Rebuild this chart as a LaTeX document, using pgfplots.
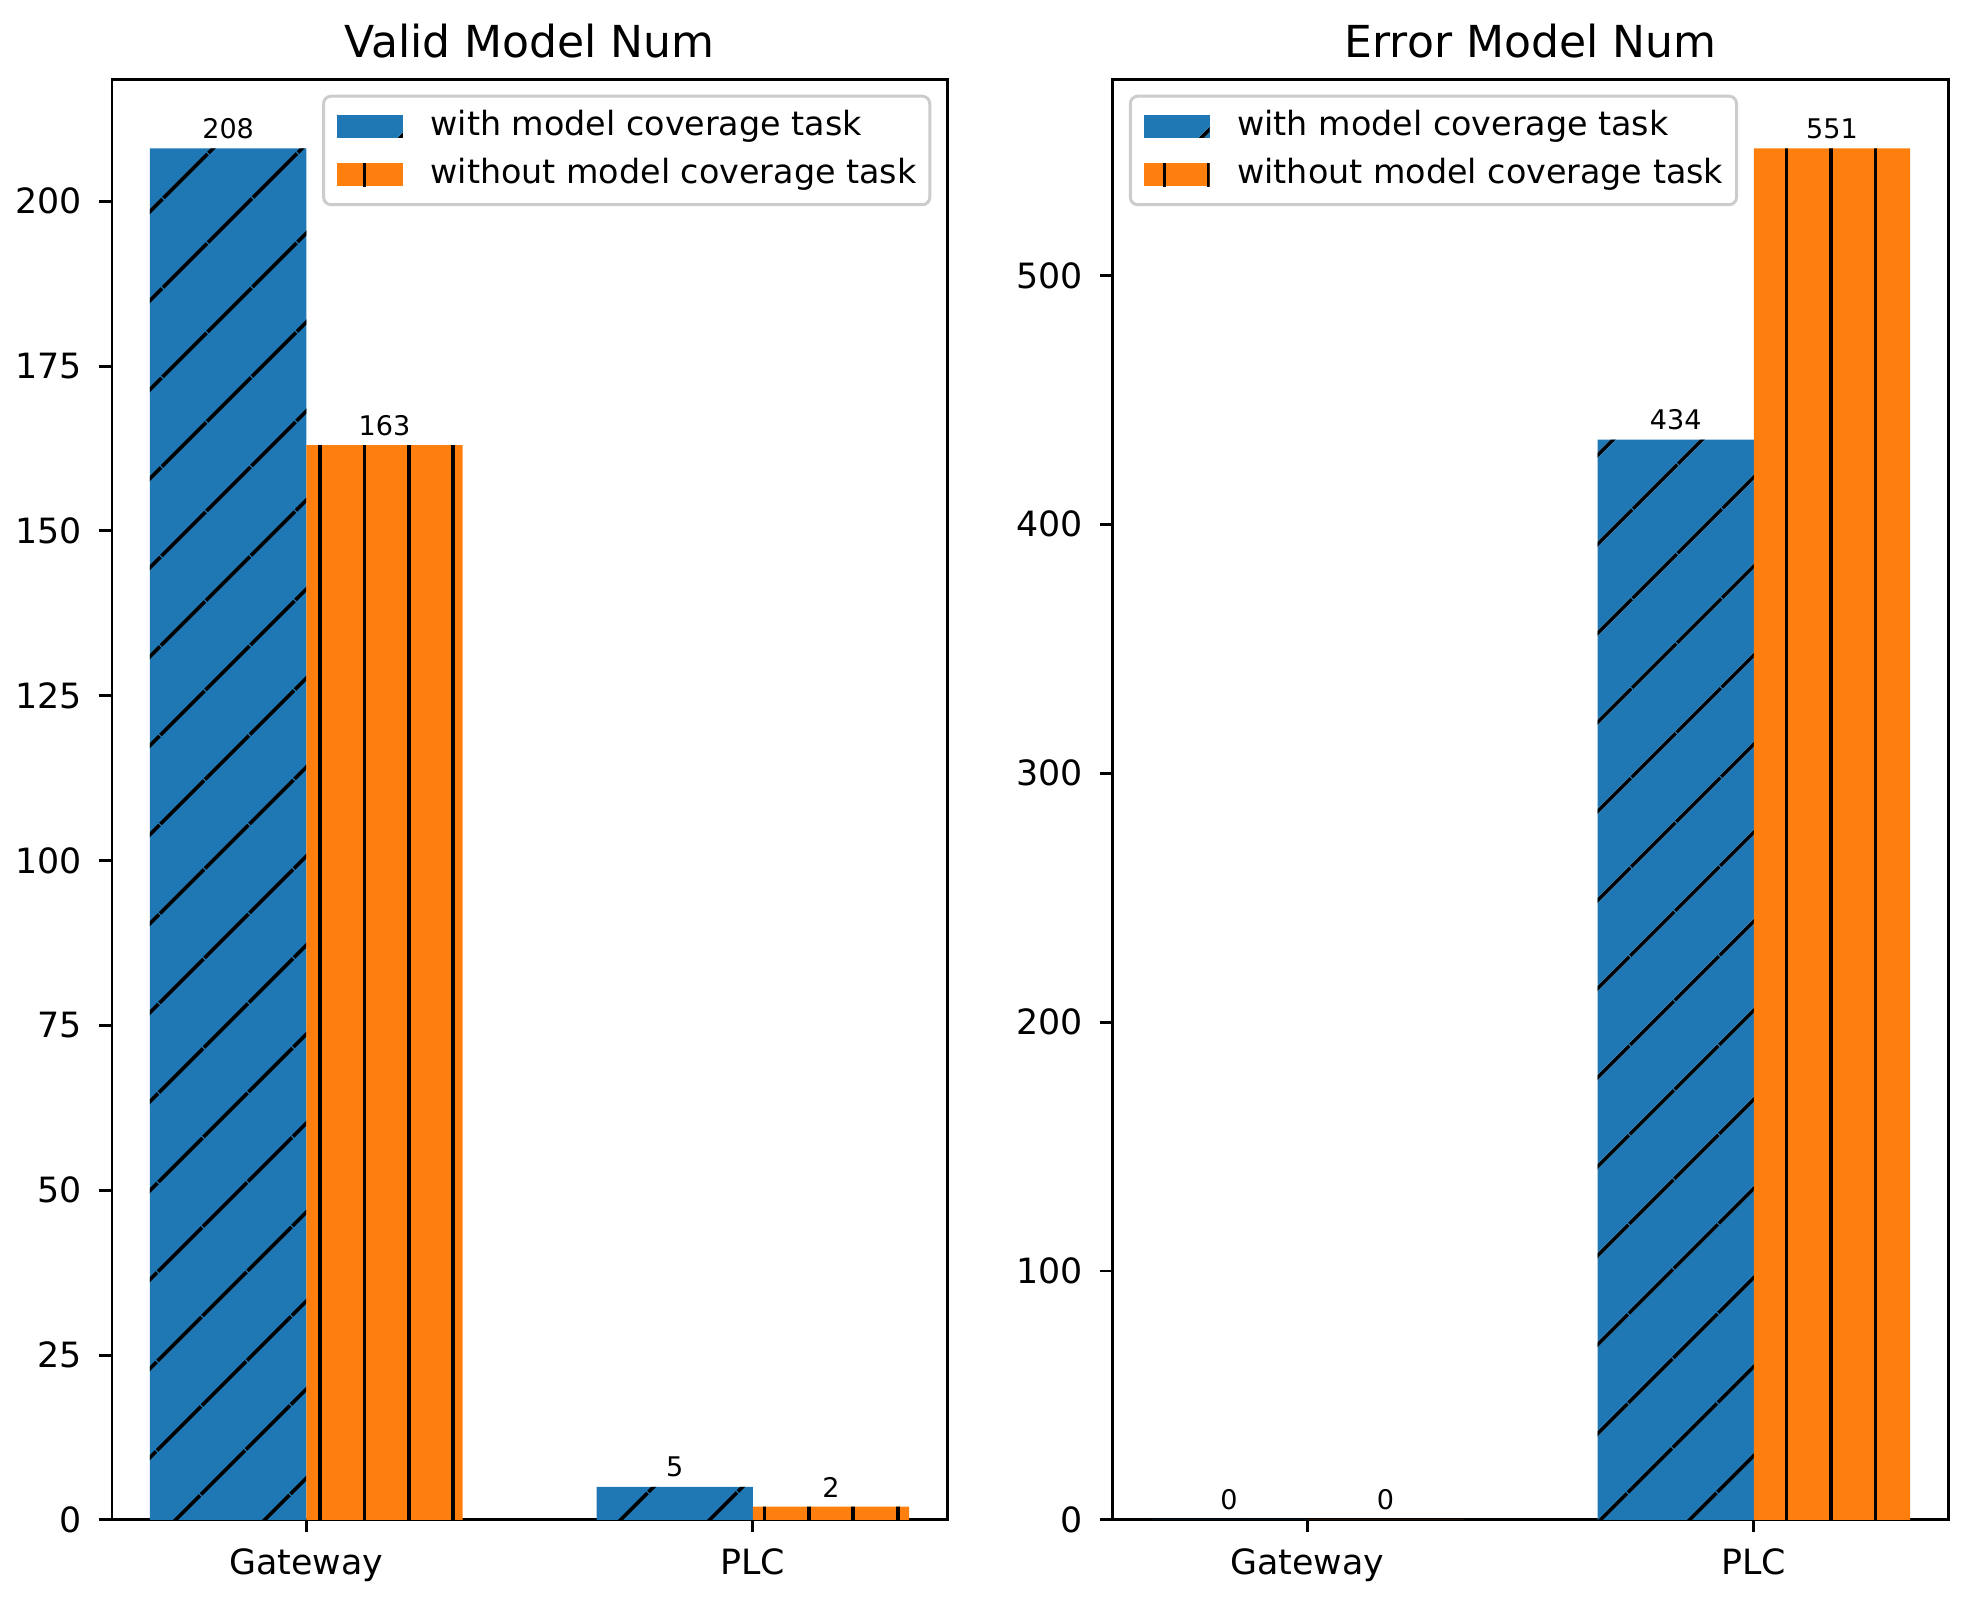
\documentclass[border=0pt]{standalone}
\usepackage{pgfplots}
\pgfplotsset{compat=1.18}
\usepackage{fontspec}
\setmainfont{DejaVu Sans}
\usetikzlibrary{patterns.meta}
\definecolor{mblue}{HTML}{1F77B4}
\definecolor{morange}{HTML}{FF7F0E}
\definecolor{lgray}{HTML}{CCCCCC}

\pgfplotsset{
  barax/.style={
    scale only axis, width=225.5pt, height=388.8pt,
    enlargelimits=false,
    xmin=-0.435, xmax=1.435, ymin=0,
    xtick={0,1}, xticklabels={Gateway,PLC},
    tick pos=left, tick align=outside,
    major tick length=3.4pt,
    tick style={black, line width=0.8pt},
    axis line style={line width=0.8pt},
    /pgf/number format/assume math mode=true,
    ticklabel style={font=\fontsize{9.4}{11}\selectfont},
    yticklabel style={anchor=east, inner sep=0pt, xshift=-4.6pt},
    xticklabel style={anchor=north, inner sep=0pt, yshift=-4.3pt},
    title style={at={(0.5,1)}, anchor=base, yshift=0pt, font=\fontsize{11.9}{14}\selectfont},
    legend cell align=left,
    legend image code/.code={\path[##1, sharp corners] (0pt,-3.1pt) rectangle (17.8pt,3.1pt);},
    legend style={draw=lgray, line width=0.8pt, rounded corners=2pt, fill=white,
      inner xsep=3.6pt, inner ysep=3.9pt, row sep=4.5pt,
      font=\fontsize{9}{11}\selectfont,
      nodes={inner sep=0pt, text height=6.6pt, text depth=1.9pt},
      /tikz/every odd column/.append style={column sep=7.5pt}},
  },
  withtask/.style={ybar, bar width=0.35, bar shift=0pt, draw=none, fill=mblue,
    postaction={pattern={Lines[angle=45,distance=17pt,line width=1pt]}, pattern color=black},
    nodes near coords,
    every node near coord/.append style={font=\fontsize{7.3}{8}\selectfont, inner sep=0pt, anchor=south, yshift=2.4pt, black}},
  withouttask/.style={ybar, bar width=0.35, bar shift=0pt, draw=none, fill=morange,
    postaction={pattern={Lines[angle=90,distance=12pt,xshift=2.4pt,line width=1pt]}, pattern color=black},
    nodes near coords,
    every node near coord/.append style={font=\fontsize{7.3}{8}\selectfont, inner sep=0pt, anchor=south, yshift=2.4pt, black}},
}

\begin{document}
\begin{tikzpicture}
\path[use as bounding box] (0,0) rectangle (531.1pt,433.6pt);

% left: valid models
\begin{axis}[barax, at={(30.24pt,23.22pt)}, anchor=south west,
  title={Valid Model Num},
  ymax=218.4, ytick={0,25,...,200},
  legend style={at={(1,1)}, anchor=north east, xshift=-4.3pt, yshift=-4pt}]
\addplot[withtask] coordinates {(-0.175,208) (0.825,5)};
\addplot[withouttask] coordinates {(0.175,163) (1.175,2)};
\legend{with model coverage task, without model coverage task}
\end{axis}

% right: error models
\begin{axis}[barax, at={(300.5pt,23.22pt)}, anchor=south west,
  title={Error Model Num},
  ymax=578.55, ytick={0,100,...,500},
  legend style={at={(0,1)}, anchor=north west, xshift=4.3pt, yshift=-4pt}]
\addplot[withtask] coordinates {(-0.175,0) (0.825,434)};
\addplot[withouttask] coordinates {(0.175,0) (1.175,551)};
\legend{with model coverage task, without model coverage task}
\end{axis}
\end{tikzpicture}
\end{document}
